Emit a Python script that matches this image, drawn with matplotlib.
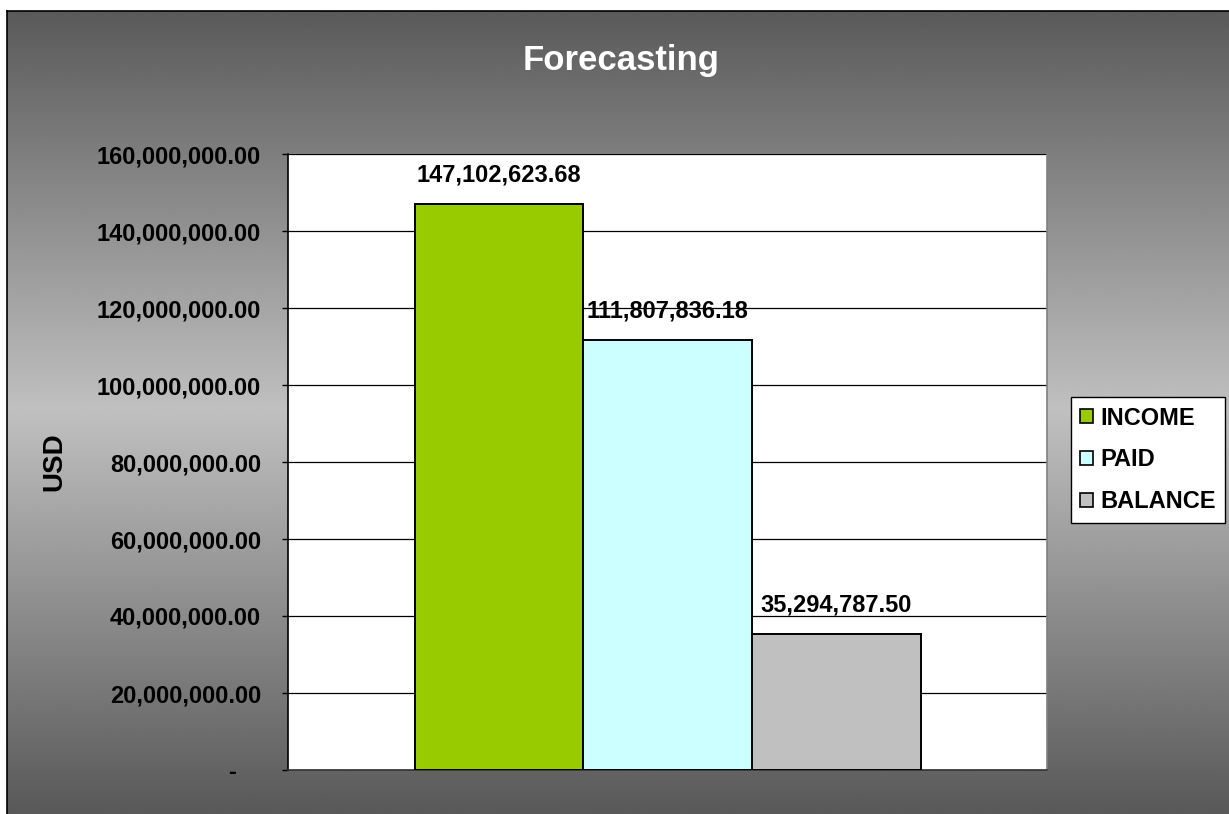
import numpy as np
import matplotlib.pyplot as plt
from matplotlib.patches import Patch
from matplotlib.lines import Line2D
from matplotlib.transforms import ScaledTranslation

plt.rcParams['font.family'] = ['Liberation Sans', 'DejaVu Sans']
plt.rcParams['font.weight'] = 'bold'

# data
series = ['INCOME', 'PAID', 'BALANCE']
values = [147102623.68, 111807836.18, 35294787.50]
colors = ['#99CC00', '#CCFFFF', '#C0C0C0']
yticks = [0, 20e6, 40e6, 60e6, 80e6, 100e6, 120e6, 140e6, 160e6]

W, H = 1229, 814
fig = plt.figure(figsize=(W / 100, H / 100), dpi=100)
fig.patch.set_facecolor('white')

# gray chart area, dark at top and bottom, light in the middle
bg = fig.add_axes([7 / W, 0, 1 - 7 / W, (H - 11) / H], zorder=-5)
bg.set_axis_off()
rows = np.linspace(0, 1, 400)
shade = 1 - np.abs(rows - 0.497) / 0.497
shade = np.clip(shade, 0, 1)
grey = (0x5a + (0xc0 - 0x5a) * shade) / 255
img = np.repeat(grey[:, None], 2, axis=1)
bg.imshow(img, cmap='gray', vmin=0, vmax=1, aspect='auto',
          extent=[0, 1, 0, 1], interpolation='bilinear')
bg.set_xlim(0, 1)
bg.set_ylim(0, 1)
fig.add_artist(Line2D([7 / W, 7 / W], [0, (H - 11) / H], color='black', lw=1.2))
fig.add_artist(Line2D([7 / W, 1], [(H - 11) / H, (H - 11) / H], color='black', lw=1.2))

# plot area
ax = fig.add_axes([288 / W, 44 / H, 759 / W, 616 / H])
ax.set_facecolor('white')
bar_w = 1 / 4.5
xpos = [0.5 + (i - 1) * bar_w for i in range(len(series))]
bars = ax.bar(xpos, values, width=bar_w, color=colors, edgecolor='black',
              linewidth=1.4, zorder=3)
for b, v in zip(bars, values):
    ax.annotate(f'{v:,.2f}', (b.get_x() + b.get_width() / 2, v),
                xytext=(0, 16), textcoords='offset points',
                ha='center', va='baseline', fontsize=17, fontweight='bold')

ax.set_xlim(0, 1)
ax.set_ylim(0, 160e6)
ax.set_xticks([])
ax.set_yticks(yticks)
ax.set_yticklabels(['-' if t == 0 else f'{t:,.2f}' for t in yticks])
ax.tick_params(axis='y', direction='out', length=4.5, width=1, pad=15,
               labelsize=17, colors='black')
ax.yaxis.grid(True, color='black', linewidth=0.9, zorder=0)
ax.set_axisbelow(True)

# the zero label sits a bit further left
zero = ax.yaxis.get_major_ticks()[0].label1
zero.set_transform(zero.get_transform() + ScaledTranslation(-0.25, 0, fig.dpi_scale_trans))

ax.spines['top'].set_visible(False)
ax.spines['left'].set_color('black')
ax.spines['bottom'].set_color('#333333')
ax.spines['right'].set_color('#808080')
for s in ax.spines.values():
    s.set_linewidth(1.2)

fig.text(621 / W, (H - 70) / H, 'Forecasting', color='white', fontsize=25,
         fontweight='bold', ha='center', va='baseline')
fig.text(54 / W, (H - 462) / H, 'USD', rotation=90, fontsize=20,
         fontweight='bold', ha='center', va='center')

handles = [Patch(facecolor=c, edgecolor='black', linewidth=1.2) for c in colors]
leg = fig.legend(handles, series, loc='center left',
                 bbox_to_anchor=(1071 / W, (H - 460) / H),
                 prop={'size': 17, 'weight': 'bold'},
                 handlelength=0.55, handleheight=0.55, handletextpad=0.3,
                 labelspacing=0.8, borderpad=0.4, borderaxespad=0,
                 fancybox=False, framealpha=1, edgecolor='black')
leg.get_frame().set_linewidth(1.0)

fig.savefig('out.png', dpi=100)
